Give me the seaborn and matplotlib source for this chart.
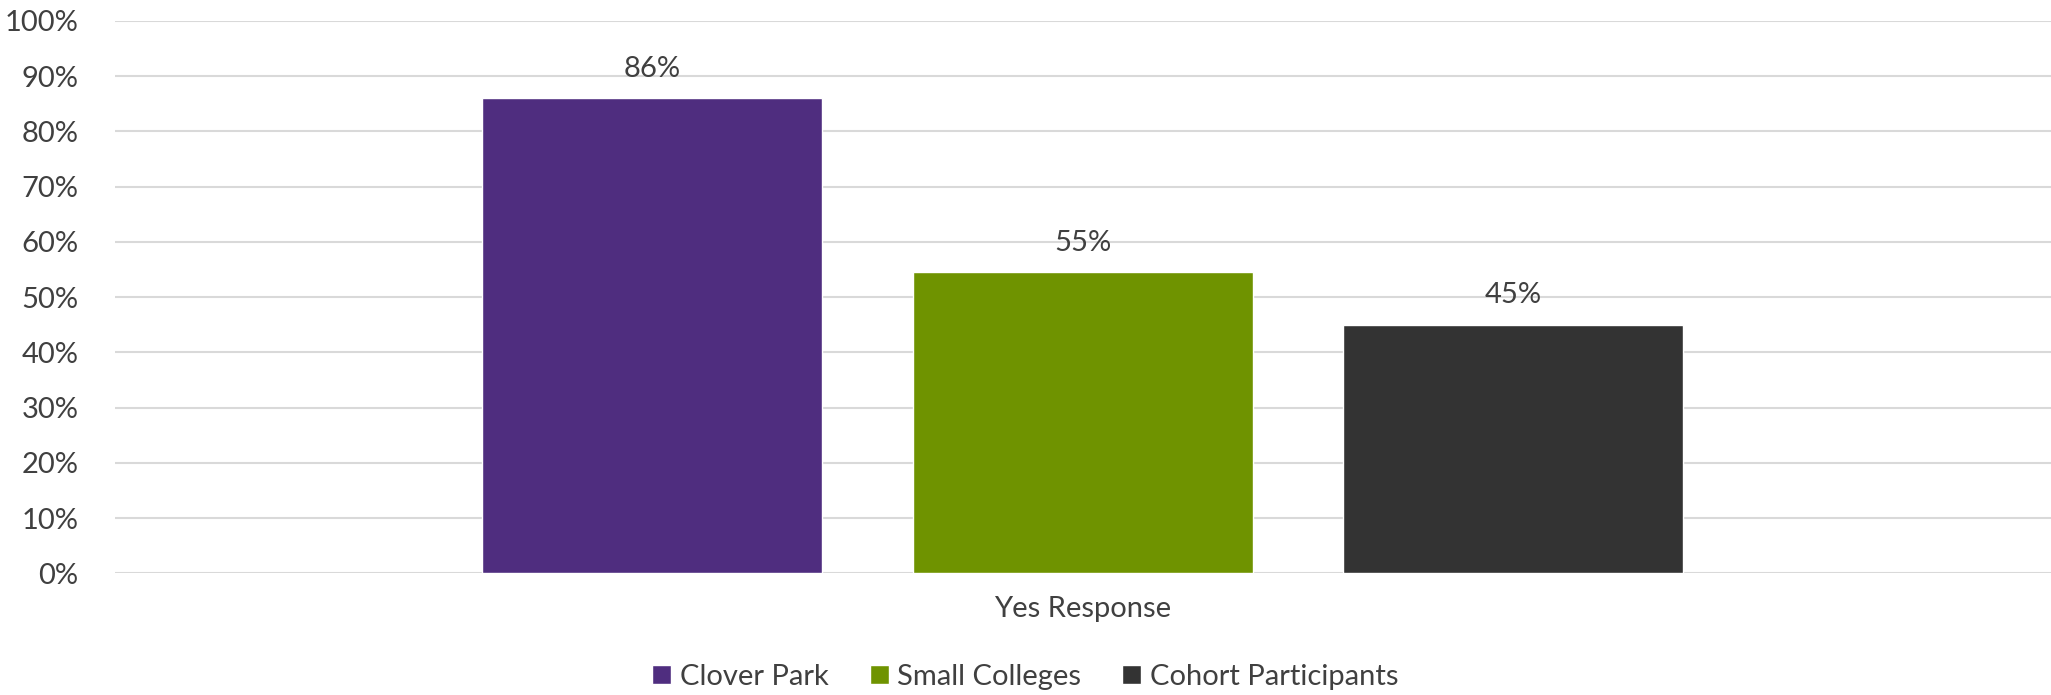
import matplotlib
matplotlib.use("Agg")
import matplotlib.pyplot as plt
import seaborn as sns
import pandas as pd
from matplotlib.ticker import PercentFormatter, MultipleLocator

categories = ["Yes Response"]
series = ["Clover Park", "Small Colleges", "Cohort Participants"]
values = [0.86, 0.545, 0.45]
labels = ["86%", "55%", "45%"]
colors = ["#4F2D7F", "#6F9300", "#333333"]

df = pd.DataFrame({"cat": categories * len(series), "series": series, "value": values})

sns.set_theme(style="white")
plt.rcParams["font.family"] = ["Lato", "DejaVu Sans"]

fig = plt.figure(figsize=(20.51, 6.95), dpi=100)
ax = fig.add_axes([0.056, 0.175, 0.944, 0.795])

sns.barplot(data=df, x="cat", y="value", hue="series", palette=colors,
            width=0.667, gap=0.21, ax=ax, legend=True, saturation=1)

ax.set_xlim(-0.5, 0.5)
ax.set_ylim(0, 1.0)
ax.yaxis.set_major_locator(MultipleLocator(0.1))
ax.yaxis.set_major_formatter(PercentFormatter(1.0, decimals=0))
ax.grid(axis="y", color="#D9D9D9", linewidth=1.5)
ax.set_axisbelow(True)
for s in ax.spines.values():
    s.set_visible(False)
ax.set_xlabel("")
ax.set_ylabel("")
ax.tick_params(axis="y", labelsize=21, colors="#404040", pad=26, length=0)
ax.tick_params(axis="x", labelsize=21, colors="#404040", pad=16, length=0)

for cont, lab in zip(ax.containers, labels):
    ax.bar_label(cont, labels=[lab], padding=12, fontsize=21, color="#404040")

handles, leg_labels = ax.get_legend_handles_labels()
ax.get_legend().remove()
fig.legend(handles, leg_labels, loc="lower center", bbox_to_anchor=(0.5, -0.03),
           ncol=3, frameon=False, fontsize=21, labelcolor="#404040",
           handlelength=0.65, handleheight=0.65, handletextpad=0.3, columnspacing=1.4)

fig.savefig("out.png", dpi=100)
